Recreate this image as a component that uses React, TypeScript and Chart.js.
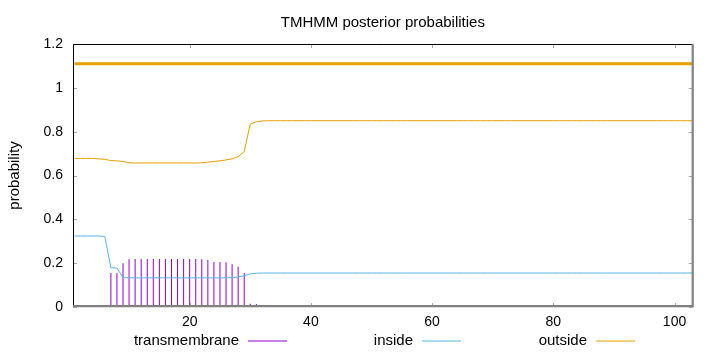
import React, { useEffect, useRef } from 'react';
import { Chart, registerables } from 'chart.js';

Chart.register(...registerables);

// ---------- data ----------
const residues: number[] = Array.from({ length: 103 }, (_, i) => i + 1);

const transmembrane: number[] = [
  0, 0, 0, 0, 0.009, 0.009, 0.155, 0.155, 0.2, 0.218,
  0.219, 0.219, 0.219, 0.219, 0.219, 0.219, 0.219, 0.219, 0.219, 0.219,
  0.219, 0.218, 0.214, 0.205, 0.205, 0.204, 0.195, 0.184, 0.155, 0.015,
  0.014, 0, 0, 0, 0, 0, 0, 0, 0, 0,
  0, 0, 0, 0, 0, 0, 0, 0, 0, 0,
  0, 0, 0, 0, 0, 0, 0, 0, 0, 0,
  0, 0, 0, 0, 0, 0, 0, 0, 0, 0,
  0, 0, 0, 0, 0, 0, 0, 0, 0, 0,
  0, 0, 0, 0, 0, 0, 0, 0, 0, 0,
  0, 0, 0, 0, 0, 0, 0, 0, 0, 0,
  0, 0, 0,
];

const inside: number[] = [
  0.324, 0.324, 0.324, 0.324, 0.324, 0.322, 0.179, 0.178, 0.134, 0.133,
  0.133, 0.133, 0.133, 0.133, 0.133, 0.133, 0.133, 0.133, 0.133, 0.133,
  0.133, 0.133, 0.133, 0.133, 0.133, 0.133, 0.134, 0.137, 0.143, 0.151,
  0.154, 0.155, 0.155, 0.155, 0.155, 0.155, 0.155, 0.155, 0.155, 0.155,
  0.155, 0.155, 0.155, 0.155, 0.155, 0.155, 0.155, 0.155, 0.155, 0.155,
  0.155, 0.155, 0.155, 0.155, 0.155, 0.155, 0.155, 0.155, 0.155, 0.155,
  0.155, 0.155, 0.155, 0.155, 0.155, 0.155, 0.155, 0.155, 0.155, 0.155,
  0.155, 0.155, 0.155, 0.155, 0.155, 0.155, 0.155, 0.155, 0.155, 0.155,
  0.155, 0.155, 0.155, 0.155, 0.155, 0.155, 0.155, 0.155, 0.155, 0.155,
  0.155, 0.155, 0.155, 0.155, 0.155, 0.155, 0.155, 0.155, 0.155, 0.155,
  0.155, 0.155, 0.155,
];

const outside: number[] = [
  0.678, 0.678, 0.678, 0.678, 0.676, 0.674, 0.668, 0.667, 0.664, 0.658,
  0.657, 0.657, 0.657, 0.657, 0.657, 0.657, 0.657, 0.657, 0.657, 0.657,
  0.657, 0.658, 0.661, 0.664, 0.667, 0.671, 0.676, 0.686, 0.709, 0.835,
  0.845, 0.849, 0.85, 0.85, 0.85, 0.85, 0.85, 0.85, 0.85, 0.85,
  0.85, 0.85, 0.85, 0.85, 0.85, 0.85, 0.85, 0.85, 0.85, 0.85,
  0.85, 0.85, 0.85, 0.85, 0.85, 0.85, 0.85, 0.85, 0.85, 0.85,
  0.85, 0.85, 0.85, 0.85, 0.85, 0.85, 0.85, 0.85, 0.85, 0.85,
  0.85, 0.85, 0.85, 0.85, 0.85, 0.85, 0.85, 0.85, 0.85, 0.85,
  0.85, 0.85, 0.85, 0.85, 0.85, 0.85, 0.85, 0.85, 0.85, 0.85,
  0.85, 0.85, 0.85, 0.85, 0.85, 0.85, 0.85, 0.85, 0.85, 0.85,
  0.85, 0.85, 0.85,
];

// predicted topology drawn as a bar above the probabilities
const topologyLevel = 1.11;
const topologyStart: number[] = [1];
const topologyEnd: number[] = [103];
const topologyRegion: string[] = ['outside'];

const xTickValues: number[] = [20, 40, 60, 80, 100];
const yTickValues: number[] = [0, 0.2, 0.4, 0.6, 0.8, 1, 1.2];
const seriesLabels: string[] = ['transmembrane', 'inside', 'outside'];
const chartTitle = 'TMHMM posterior probabilities';
const yAxisTitle = 'probability';

// ---------- styles ----------
const COLORS: Record<string, string> = {
  transmembrane: '#9400d3',
  inside: '#56b4e9',
  outside: '#e69f00',
};
const FONT = "'Liberation Sans', Arial, Helvetica, sans-serif";

const framePlugin = {
  id: 'gnuplotFrame',
  afterDatasetsDraw(chart: any) {
    const { ctx, chartArea, scales } = chart;
    const { left, right, top, bottom } = chartArea;
    const x = scales.x;
    const y = scales.y;
    ctx.save();
    // inward tick marks
    ctx.strokeStyle = '#a8a8a8';
    ctx.lineWidth = 1;
    ctx.beginPath();
    yTickValues.forEach((v) => {
      const py = Math.round(y.getPixelForValue(v)) + 0.5;
      ctx.moveTo(left, py);
      ctx.lineTo(left + 4, py);
      ctx.moveTo(right, py);
      ctx.lineTo(right - 4, py);
    });
    xTickValues.forEach((v) => {
      const px = Math.round(x.getPixelForValue(v)) + 0.5;
      ctx.moveTo(px, bottom);
      ctx.lineTo(px, bottom - 4);
      ctx.moveTo(px, top);
      ctx.lineTo(px, top + 4);
    });
    ctx.stroke();
    // thin black top and left borders
    ctx.strokeStyle = '#000';
    ctx.lineWidth = 1;
    ctx.beginPath();
    ctx.moveTo(left + 0.5, bottom);
    ctx.lineTo(left + 0.5, top + 0.5);
    ctx.lineTo(right, top + 0.5);
    ctx.stroke();
    // thick grey bottom and right borders
    ctx.strokeStyle = '#808080';
    ctx.lineWidth = 2.2;
    ctx.beginPath();
    ctx.moveTo(left, bottom - 0.8);
    ctx.lineTo(right, bottom - 0.8);
    ctx.lineTo(right, top);
    ctx.stroke();
    ctx.restore();
  },
  afterDraw(chart: any) {
    const { ctx, chartArea } = chart;
    ctx.save();
    // title centred over the plot area
    ctx.font = `15px ${FONT}`;
    ctx.fillStyle = '#000';
    ctx.textAlign = 'center';
    ctx.textBaseline = 'alphabetic';
    ctx.fillText(chartTitle, (chartArea.left + chartArea.right) / 2, 27);
    // key: text followed by line sample
    ctx.textAlign = 'right';
    ctx.textBaseline = 'middle';
    const keyY = 341;
    seriesLabels.forEach((label, i) => {
      const sampleStart = 248 + 174 * i;
      ctx.fillStyle = '#000';
      ctx.fillText(label, sampleStart - 9, keyY);
      ctx.strokeStyle = COLORS[label];
      ctx.lineWidth = 1;
      ctx.beginPath();
      ctx.moveTo(sampleStart, keyY);
      ctx.lineTo(sampleStart + 39, keyY);
      ctx.stroke();
    });
    ctx.restore();
  },
};

export default function App() {
  const canvasRef = useRef<HTMLCanvasElement | null>(null);

  useEffect(() => {
    const canvas = canvasRef.current;
    if (!canvas) return;

    const topologyData: { x: number; y: number }[] = [];
    topologyStart.forEach((s, i) => {
      topologyData.push({ x: s, y: topologyLevel });
      topologyData.push({ x: topologyEnd[i], y: topologyLevel });
    });

    const chart = new Chart(canvas, {
      type: 'bar',
      data: {
        datasets: [
          {
            type: 'line',
            label: 'topology',
            data: topologyData,
            borderColor: COLORS[topologyRegion[0]],
            borderWidth: 3,
            pointRadius: 0,
            tension: 0,
            order: 1,
          } as any,
          {
            type: 'line',
            label: 'outside',
            data: residues.map((r, i) => ({ x: r, y: outside[i] })),
            borderColor: COLORS.outside,
            borderWidth: 1,
            pointRadius: 0,
            tension: 0,
            order: 2,
          } as any,
          {
            type: 'line',
            label: 'inside',
            data: residues.map((r, i) => ({ x: r, y: inside[i] })),
            borderColor: COLORS.inside,
            borderWidth: 1,
            pointRadius: 0,
            tension: 0,
            order: 3,
          } as any,
          {
            type: 'bar',
            label: 'transmembrane',
            data: residues.map((r, i) => ({ x: r, y: transmembrane[i] })),
            backgroundColor: COLORS.transmembrane,
            borderWidth: 0,
            barThickness: 1,
            inflateAmount: 0,
            order: 4,
          } as any,
        ],
      },
      options: {
        animation: false,
        responsive: false,
        devicePixelRatio: 1,
        events: [],
        layout: { padding: { top: 44, left: 0, right: 27.3, bottom: 0 } },
        plugins: {
          legend: { display: false },
          tooltip: { enabled: false },
          title: { display: false },
        },
        scales: {
          x: {
            type: 'linear',
            min: 0.75,
            max: 103,
            offset: false,
            grid: { display: false, drawTicks: false, offset: false },
            border: { display: false },
            ticks: {
              color: '#000',
              font: { family: FONT, size: 14 },
              padding: 7,
              maxRotation: 0,
              autoSkip: false,
              callback: (v: any) => String(v),
            },
            afterBuildTicks: (s: any) => {
              s.ticks = xTickValues.map((v) => ({ value: v }));
            },
            afterFit: (s: any) => {
              s.height = 45;
            },
          },
          y: {
            type: 'linear',
            min: 0,
            max: 1.2,
            grid: { display: false, drawTicks: false },
            border: { display: false },
            ticks: {
              color: '#000',
              font: { family: FONT, size: 14 },
              padding: 10,
              callback: (v: any) => String(Number(Number(v).toFixed(1))),
            },
            afterBuildTicks: (s: any) => {
              s.ticks = yTickValues.map((v) => ({ value: v }));
            },
            afterFit: (s: any) => {
              s.width = 73;
            },
            title: {
              display: true,
              text: yAxisTitle,
              color: '#000',
              font: { family: FONT, size: 15 },
              padding: { top: 6, bottom: 0 },
            },
          },
        },
      },
      plugins: [framePlugin],
    });

    return () => {
      chart.destroy();
    };
  }, []);

  return (
    <div style={{ position: 'absolute', left: 0, top: 0, width: 720, height: 352, background: '#fff' }}>
      <canvas ref={canvasRef} width={720} height={352} style={{ display: 'block', width: 720, height: 352 }} />
    </div>
  );
}
